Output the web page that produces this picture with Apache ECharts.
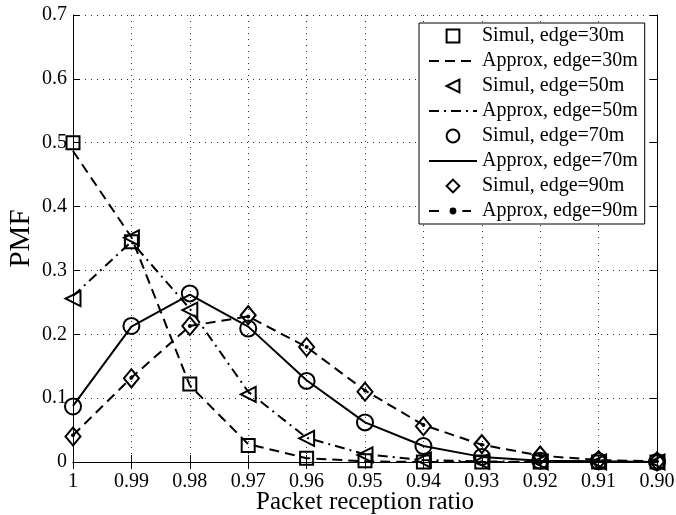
<!DOCTYPE html>
<html><head><meta charset="utf-8">
<script src="https://cdn.jsdelivr.net/npm/echarts@6/dist/echarts.min.js"></script>
<style>html,body{margin:0;padding:0;background:#fff}#c{width:676px;height:515px}</style>
</head><body><div id="c"></div>
<script>
const categories = ['1','0.99','0.98','0.97','0.96','0.95','0.94','0.93','0.92','0.91','0.90'];
const simul30  = [0.500, 0.345, 0.122, 0.026, 0.006, 0.002, 0.000, 0.000, 0.000, 0.000, 0.000];
const approx30 = [0.487, 0.352, 0.120, 0.028, 0.006, 0.001, 0.000, 0.000, 0.000, 0.000, 0.000];
const simul50  = [0.256, 0.351, 0.238, 0.106, 0.037, 0.011, 0.003, 0.001, 0.000, 0.000, 0.000];
const approx50 = [0.260, 0.345, 0.240, 0.110, 0.038, 0.012, 0.003, 0.001, 0.000, 0.000, 0.000];
const simul70  = [0.087, 0.213, 0.264, 0.209, 0.127, 0.062, 0.025, 0.008, 0.002, 0.001, 0.000];
const approx70 = [0.088, 0.212, 0.262, 0.212, 0.128, 0.062, 0.025, 0.008, 0.002, 0.001, 0.000];
const simul90  = [0.040, 0.131, 0.213, 0.230, 0.180, 0.110, 0.056, 0.028, 0.010, 0.003, 0.001];
const approx90 = [0.042, 0.132, 0.213, 0.228, 0.180, 0.112, 0.058, 0.027, 0.010, 0.003, 0.001];
const legendNames = ['Simul, edge=30m','Approx, edge=30m','Simul, edge=50m','Approx, edge=50m',
                     'Simul, edge=70m','Approx, edge=70m','Simul, edge=90m','Approx, edge=90m'];

const FONT = 'Liberation Serif';
const markerStyle = {color: 'rgba(0,0,0,0)', borderColor: '#000', borderWidth: 2};
function simul(name, data, symbol, size, rotate) {
  return {name, type: 'line', data, symbol, symbolSize: size, symbolRotate: rotate || 0,
          showSymbol: true, showAllSymbol: true,
          itemStyle: markerStyle, color: '#000',
          lineStyle: {width: 0, opacity: 0}, z: 3};
}
function approx(name, data, dash, withDot) {
  return {name, type: 'line', data, color: '#000',
          symbol: withDot ? 'circle' : 'none', symbolSize: 4, showSymbol: !!withDot,
          itemStyle: {color: '#000'},
          lineStyle: {color: '#000', width: 2, type: dash}, z: 2};
}
const noDot = {color: 'rgba(0,0,0,0)', borderWidth: 0, borderColor: 'rgba(0,0,0,0)'};
const legendData = legendNames.map((n, i) => {
  if (i % 2 === 0) return {name: n, lineStyle: {width: 0, opacity: 0}};
  if (i === 7) return {name: n, itemStyle: {color: '#000', borderColor: '#fff', borderWidth: 6}};
  return {name: n, itemStyle: noDot};
});
const chart = echarts.init(document.getElementById('c'), null, {renderer: 'canvas'});
const axisLine = {show: true, lineStyle: {color: '#000', width: 1}};
const tick = {show: true, inside: true, length: 7, lineStyle: {color: '#000', width: 1}};
const grid = {show: true, lineStyle: {color: '#333', width: 1, type: [1, 5]}};
chart.setOption({
  animation: false,
  backgroundColor: '#fff',
  textStyle: {fontFamily: FONT},
  grid: {left: 73, right: 19, top: 15, bottom: 53, containLabel: false, outerBoundsMode: 'none'},
  legend: {
    data: legendData, orient: 'vertical', left: 419, top: 23,
    itemWidth: 48, itemHeight: 16, itemGap: 5, padding: [3, 7, 3, 9],
    borderColor: '#000', borderWidth: 1, backgroundColor: '#fff', borderRadius: 0,
    selectedMode: false, z: 10,
    textStyle: {fontFamily: FONT, fontSize: 20, color: '#000'}
  },
  xAxis: [{
    type: 'category', data: categories, boundaryGap: false, position: 'bottom',
    axisLine, axisTick: tick, splitLine: grid,
    axisLabel: {fontFamily: FONT, fontSize: 20, color: '#000', margin: 10},
    name: 'Packet reception ratio', nameLocation: 'middle', nameGap: 28, nameMoveOverlap: false,
    nameTextStyle: {fontFamily: FONT, fontSize: 25, color: '#000'}
  }, {
    type: 'category', data: categories, boundaryGap: false, position: 'top',
    axisLine, axisTick: tick, splitLine: {show: false}, axisLabel: {show: false}
  }],
  yAxis: [{
    type: 'value', min: 0, max: 0.7, interval: 0.1, position: 'left',
    axisLine, axisTick: tick, splitLine: grid,
    axisLabel: {fontFamily: FONT, fontSize: 20, color: '#000', margin: 6},
    name: 'PMF', nameLocation: 'middle', nameGap: 37, nameMoveOverlap: false,
    nameTextStyle: {fontFamily: FONT, fontSize: 29, color: '#000'}
  }, {
    type: 'value', min: 0, max: 0.7, interval: 0.1, position: 'right',
    axisLine, axisTick: tick, splitLine: {show: false}, axisLabel: {show: false}
  }],
  series: [
    simul(legendNames[0], simul30, 'rect', 13),
    approx(legendNames[1], approx30, [10, 6]),
    simul(legendNames[2], simul50, 'triangle', 15, 90),
    approx(legendNames[3], approx50, [10, 5, 2, 5]),
    simul(legendNames[4], simul70, 'circle', 16),
    approx(legendNames[5], approx70, 'solid'),
    simul(legendNames[6], simul90, 'diamond', [15, 18]),
    approx(legendNames[7], approx90, [10, 6], true)
  ]
});
</script></body></html>
